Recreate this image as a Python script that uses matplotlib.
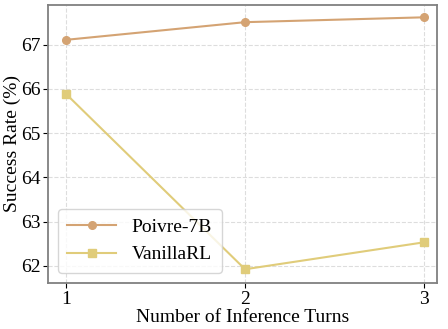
import matplotlib
matplotlib.use('Agg')
import matplotlib.pyplot as plt

turns = [1, 2, 3]
poivre = [67.11, 67.51, 67.62]
vanilla = [65.89, 61.92, 62.53]

plt.rcParams['font.family'] = ['Liberation Serif', 'DejaVu Serif']

fig, ax = plt.subplots(figsize=(4.48, 3.29), dpi=100)
ax.plot(turns, poivre, '-o', color='#D4A373', lw=1.5, ms=5.5, label='Poivre-7B')
ax.plot(turns, vanilla, '-s', color='#E0CC7A', lw=1.5, ms=5.5, label='VanillaRL')

ax.set_xlim(0.9, 3.07)
ax.set_ylim(61.61, 67.9)
ax.set_xticks(turns)
ax.set_yticks([62, 63, 64, 65, 66, 67])
ax.tick_params(labelsize=14, pad=2)
ax.grid(True, linestyle='--', color='#dddddd', lw=0.8)
for s in ax.spines.values():
    s.set_color('#808080')
    s.set_linewidth(1.3)
ax.set_xlabel('Number of Inference Turns', fontsize=14, labelpad=1)
ax.set_ylabel('Success Rate (%)', fontsize=14)
ax.yaxis.set_label_coords(-0.07, 0.5)
ax.legend(loc='lower left', fontsize=14, handlelength=2.5, borderpad=0.5)

fig.subplots_adjust(left=0.107, right=0.975, top=0.985, bottom=0.14)
fig.savefig('out.png')
